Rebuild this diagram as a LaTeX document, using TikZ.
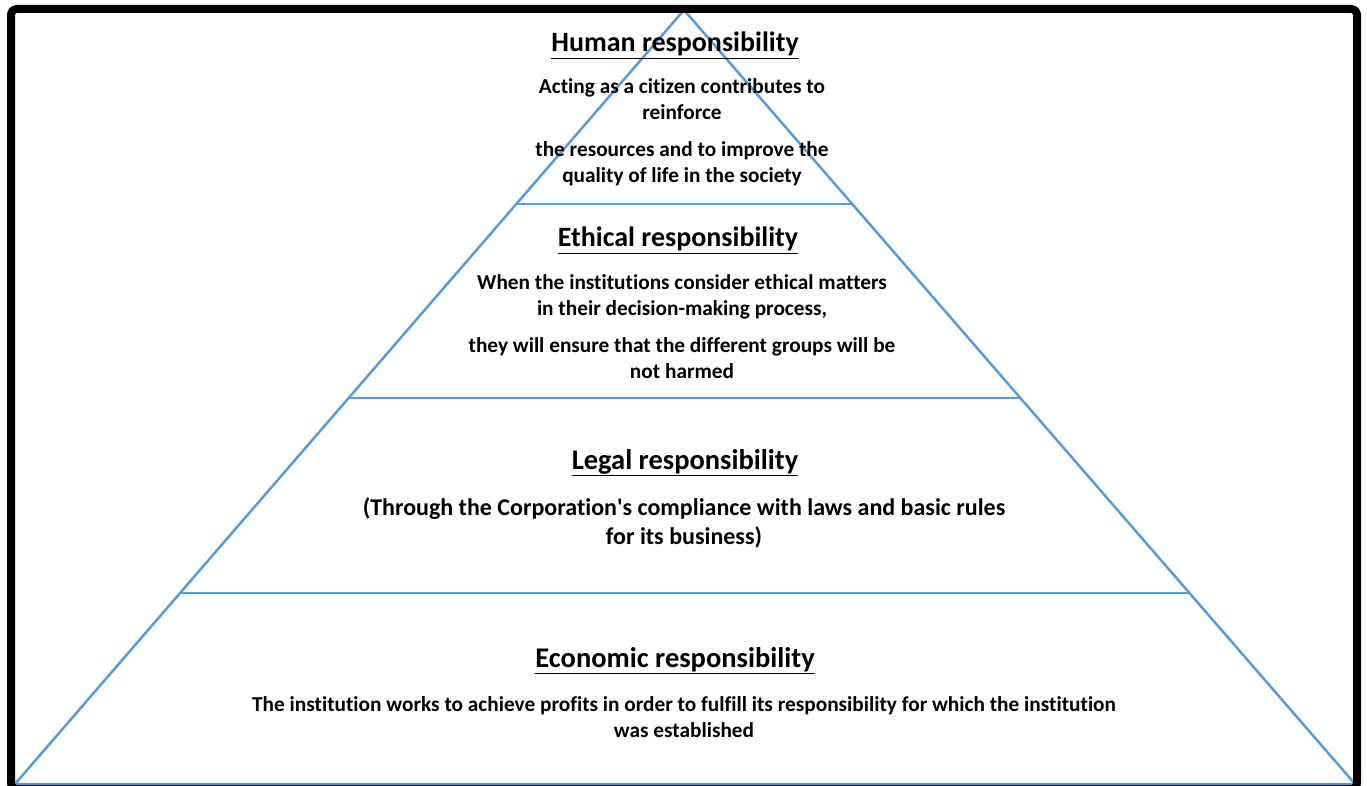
\documentclass[tikz,border=0pt]{standalone}
\usepackage{fontspec}
\setmainfont{Carlito}[Ligatures={TeX,NoCommon}]
\usetikzlibrary{calc}
\definecolor{pyrblue}{RGB}{91,155,213}
\tikzset{
  side/.style={draw=pyrblue, line width=2.5pt},
  heading/.style={font=\fontsize{28}{32}\selectfont\bfseries, anchor=base, inner sep=0pt},
  bodytext/.style={font=\fontsize{21.3}{26}\selectfont\bfseries, align=center, inner sep=0pt},
  frame/.style={draw=black, line width=8pt, rounded corners=6pt}
}
\begin{document}
\begin{tikzpicture}[x=1pt,y=-1pt]
\useasboundingbox (0,0) rectangle (1367,786);
\clip (0,0) rectangle (1367,786);
\fill[white] (0,0) rectangle (1367,786);
% pyramid corners
\coordinate (apex) at (684,10);
\coordinate (bl) at (15,784);
\coordinate (br) at (1355,784);
\draw[side] (bl) -- (apex) -- (br) -- cycle;
% tier lines
\foreach \y/\n in {204/a,398/b,593/c}{
  \coordinate (l\n) at ($(apex)!{(\y-10)/774}!(bl)$);
  \coordinate (r\n) at ($(apex)!{(\y-10)/774}!(br)$);
  \draw[side] (l\n) -- (r\n);
}
% frame
\draw[frame] (11,9) rectangle (1357,789);
% texts
\node[heading] (h1) at (675,52) {\underline{Human responsibility}};
\node[bodytext] (t1) at (682,132) {Acting as a citizen contributes to\\reinforce\\[11pt]the resources and to improve the\\quality of life in the society};
\node[heading] (h2) at (678,247) {\underline{Ethical responsibility}};
\node[bodytext] (t2) at (682,327) {When the institutions consider ethical matters\\in their decision-making process,\\[11pt]they will ensure that the different groups will be\\not harmed};
\node[heading, font=\fontsize{28.5}{32}\selectfont\bfseries] (h3) at (685,469) {\underline{Legal responsibility}};
\node[bodytext, font=\fontsize{24}{29}\selectfont\bfseries] (t3) at (684,523) {(Through the Corporation\textquotesingle s compliance with laws and basic rules\\for its business)};
\node[heading, font=\fontsize{28.5}{32}\selectfont\bfseries] (h4) at (675,667) {\underline{Economic responsibility}};
\node[bodytext] (t4) at (684,717) {The institution works to achieve profits in order to fulfill its responsibility for which the institution\\was established};
\end{tikzpicture}
\end{document}
